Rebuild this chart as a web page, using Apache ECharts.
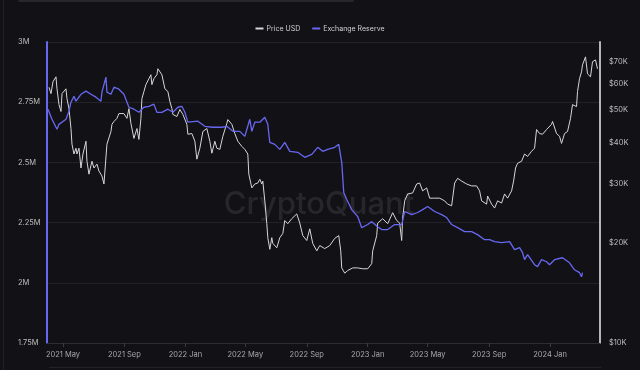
<!DOCTYPE html>
<html>
<head>
<meta charset="utf-8">
<script src="https://cdn.jsdelivr.net/npm/echarts@6/dist/echarts.min.js"></script>
<style>
html,body{margin:0;padding:0;background:#121216;}
#c{width:640px;height:370px;}
</style>
</head>
<body>
<div id="c"></div>
<script>
// ---- Data ----
const priceDates = ['2021-04-03','2021-04-07','2021-04-11','2021-04-17','2021-04-19','2021-04-23','2021-04-27','2021-04-29','2021-05-03','2021-05-07','2021-05-09','2021-05-13','2021-05-17','2021-05-19','2021-05-23','2021-05-27','2021-05-29','2021-06-02','2021-06-06','2021-06-10','2021-06-16','2021-06-18','2021-06-22','2021-06-28','2021-07-02','2021-07-08','2021-07-12','2021-07-18','2021-07-22','2021-07-28','2021-08-05','2021-08-07','2021-08-11','2021-08-17','2021-08-21','2021-08-25','2021-08-31','2021-09-06','2021-09-10','2021-09-14','2021-09-20','2021-09-26','2021-09-30','2021-10-04','2021-10-06','2021-10-10','2021-10-14','2021-10-20','2021-10-24','2021-10-26','2021-10-30','2021-11-05','2021-11-07','2021-11-15','2021-11-21','2021-11-27','2021-12-01','2021-12-05','2021-12-07','2021-12-15','2021-12-21','2021-12-27','2022-01-04','2022-01-06','2022-01-14','2022-01-20','2022-01-24','2022-01-30','2022-02-05','2022-02-13','2022-02-19','2022-02-23','2022-03-01','2022-03-05','2022-03-11','2022-03-17','2022-03-25','2022-03-27','2022-04-04','2022-04-10','2022-04-16','2022-04-24','2022-04-30','2022-05-06','2022-05-08','2022-05-14','2022-05-20','2022-05-26','2022-05-30','2022-06-03','2022-06-05','2022-06-09','2022-06-13','2022-06-15','2022-06-19','2022-06-23','2022-06-25','2022-07-03','2022-07-09','2022-07-15','2022-07-19','2022-07-25','2022-08-02','2022-08-12','2022-08-18','2022-08-24','2022-09-01','2022-09-07','2022-09-13','2022-09-21','2022-09-27','2022-10-07','2022-10-17','2022-10-27','2022-11-04','2022-11-08','2022-11-10','2022-11-16','2022-11-22','2022-12-02','2022-12-12','2022-12-22','2023-01-01','2023-01-09','2023-01-11','2023-01-19','2023-01-21','2023-01-31','2023-02-10','2023-02-20','2023-02-28','2023-03-06','2023-03-10','2023-03-12','2023-03-16','2023-03-22','2023-04-01','2023-04-09','2023-04-15','2023-04-21','2023-04-29','2023-05-05','2023-05-15','2023-05-25','2023-06-04','2023-06-10','2023-06-18','2023-06-24','2023-06-30','2023-07-08','2023-07-18','2023-07-28','2023-08-07','2023-08-13','2023-08-17','2023-08-27','2023-08-29','2023-09-06','2023-09-12','2023-09-18','2023-09-26','2023-10-02','2023-10-08','2023-10-16','2023-10-20','2023-10-24','2023-10-28','2023-11-05','2023-11-11','2023-11-17','2023-11-25','2023-12-01','2023-12-05','2023-12-11','2023-12-17','2023-12-25','2024-01-04','2024-01-06','2024-01-14','2024-01-20','2024-01-24','2024-01-30','2024-02-05','2024-02-11','2024-02-15','2024-02-23','2024-02-25','2024-02-29','2024-03-04','2024-03-06','2024-03-12','2024-03-16','2024-03-22','2024-03-26','2024-04-01','2024-04-05'];
// price in thousands of USD
const priceValues = [58.5,56.0,60.8,62.9,57.9,51.9,49.5,56.0,55.6,57.9,54.1,50.5,44.0,39.5,36.9,38.4,36.9,38.4,33.5,36.9,40.3,35.1,32.1,35.1,33.5,34.4,32.8,31.7,30.0,39.5,43.1,45.3,46.2,47.2,48.8,48.5,48.8,47.2,50.5,45.6,41.1,44.0,40.8,47.2,54.1,56.8,59.6,62.1,63.8,59.6,62.1,63.8,66.5,63.8,57.9,56.8,53.0,50.5,48.5,47.8,50.2,48.5,45.3,42.3,42.5,40.3,35.6,38.4,43.1,44.0,40.3,37.1,40.3,38.4,38.1,41.7,45.6,46.8,45.3,42.5,40.3,38.9,38.1,36.9,32.1,29.2,30.0,30.2,31.0,30.0,30.6,26.7,22.8,20.7,19.1,20.7,19.9,19.3,20.7,21.3,23.3,22.8,23.6,24.4,22.9,21.0,20.3,22.0,19.9,18.9,19.6,19.2,19.6,20.6,21.0,18.9,16.8,16.2,16.5,16.8,16.8,16.7,16.7,17.3,18.9,21.0,22.9,23.6,22.8,24.6,23.3,22.9,20.3,23.8,26.7,28.0,28.2,30.0,30.2,28.6,29.2,27.2,27.2,27.2,26.7,26.1,25.8,30.2,31.2,30.6,30.0,29.6,29.6,28.6,26.7,26.1,27.6,26.1,25.4,26.7,26.3,28.0,27.2,28.6,30.6,33.5,34.6,35.1,36.9,36.3,37.6,38.4,43.7,42.5,42.3,43.7,45.3,46.2,42.5,41.7,39.7,42.5,43.1,47.2,51.9,51.2,56.8,62.1,65.1,68.3,72.2,64.2,62.9,69.8,70.7,66.5];

const reserveDates = ['2021-04-01','2021-04-09','2021-04-19','2021-04-23','2021-05-07','2021-05-13','2021-05-17','2021-05-23','2021-05-27','2021-06-06','2021-06-16','2021-06-26','2021-07-06','2021-07-16','2021-07-18','2021-07-26','2021-07-28','2021-08-05','2021-08-11','2021-08-21','2021-08-31','2021-09-10','2021-09-20','2021-09-30','2021-10-10','2021-10-20','2021-10-30','2021-11-05','2021-11-15','2021-11-27','2021-12-07','2021-12-17','2021-12-25','2021-12-31','2022-01-06','2022-01-26','2022-02-09','2022-02-25','2022-03-15','2022-03-25','2022-04-06','2022-04-20','2022-04-30','2022-05-10','2022-05-14','2022-05-20','2022-05-30','2022-06-09','2022-06-15','2022-06-19','2022-06-29','2022-07-09','2022-07-19','2022-07-29','2022-08-14','2022-08-28','2022-09-11','2022-09-23','2022-10-03','2022-10-13','2022-10-27','2022-11-04','2022-11-10','2022-11-14','2022-11-20','2022-11-30','2022-12-12','2022-12-20','2023-01-01','2023-01-09','2023-01-21','2023-01-29','2023-02-10','2023-02-24','2023-03-10','2023-03-16','2023-03-30','2023-04-11','2023-04-21','2023-05-01','2023-05-15','2023-05-29','2023-06-08','2023-06-18','2023-06-30','2023-07-14','2023-07-28','2023-08-09','2023-08-23','2023-09-02','2023-09-12','2023-09-26','2023-10-12','2023-10-22','2023-11-01','2023-11-07','2023-11-11','2023-11-17','2023-12-01','2023-12-07','2023-12-15','2023-12-25','2023-12-31','2024-01-10','2024-01-26','2024-02-09','2024-02-19','2024-02-29','2024-03-04','2024-03-06'];
// exchange reserve in millions of BTC
const reserveValues = [2.721,2.679,2.638,2.658,2.679,2.7125,2.75,2.775,2.754,2.783,2.796,2.783,2.771,2.754,2.792,2.854,2.792,2.783,2.8125,2.804,2.783,2.729,2.721,2.708,2.729,2.733,2.742,2.708,2.708,2.721,2.708,2.729,2.733,2.708,2.667,2.671,2.65,2.646,2.646,2.65,2.629,2.629,2.608,2.679,2.629,2.667,2.667,2.6875,2.658,2.583,2.575,2.554,2.583,2.546,2.542,2.521,2.533,2.5625,2.546,2.554,2.5625,2.575,2.5,2.375,2.346,2.304,2.275,2.229,2.242,2.254,2.233,2.221,2.221,2.242,2.242,2.296,2.283,2.292,2.304,2.317,2.296,2.283,2.271,2.242,2.229,2.2125,2.2125,2.2,2.179,2.179,2.171,2.167,2.171,2.1375,2.146,2.125,2.096,2.117,2.075,2.067,2.096,2.0875,2.075,2.096,2.104,2.083,2.054,2.042,2.025,2.042];

const xTickDates = ['2021-05-01','2021-09-01','2022-01-01','2022-05-01','2022-09-01','2023-01-01','2023-05-01','2023-09-01','2024-01-01'];
const leftTicks = [1.75, 2, 2.25, 2.5, 2.75, 3];
const rightTicks = [10, 20, 30, 40, 50, 60, 70];
const monthNames = ['Jan','Feb','Mar','Apr','May','Jun','Jul','Aug','Sep','Oct','Nov','Dec'];

function ts(s){ const p = s.split('-').map(Number); return new Date(p[0], p[1]-1, p[2]).getTime(); }

const chart = echarts.init(document.getElementById('c'), null, {renderer:'canvas'});
const FONT = 'Inter, Roboto, sans-serif';
const PRICE_COLOR = '#d6d6d6';
const RES_COLOR = '#6767f2';

chart.setOption({
  backgroundColor: '#121216',
  animation: false,
  textStyle: { fontFamily: FONT },
  legend: {
    top: 20, left: 'center',
    icon: 'rect', itemWidth: 8, itemHeight: 2, itemGap: 12,
    textStyle: { color: '#d0d0d0', fontSize: 7, fontFamily: FONT, padding: [0, 0, 0, -2] },
    data: ['Price USD', 'Exchange Reserve']
  },
  grid: { left: 47, right: 40, top: 42, bottom: 27 },
  graphic: [
    { type: 'rect', shape: { x: 3, y: 0, width: 1, height: 370 }, style: { fill: '#1f1f24' }, silent: true },
    { type: 'rect', shape: { x: 18, y: 0, width: 336, height: 2, r: 1 }, style: { fill: '#26262b' }, silent: true },
    { type: 'rect', shape: { x: 49, y: 367, width: 552, height: 1 }, style: { fill: '#222227' }, silent: true },
    { type: 'text', x: 319, y: 205, silent: true, z: 0,
      style: { text: 'CryptoQuant', fontSize: 31, fontFamily: FONT, fontWeight: 500,
               fill: 'rgba(255,255,255,0.09)', align: 'center', verticalAlign: 'middle' } }
  ],
  xAxis: {
    type: 'value',
    min: ts('2021-03-30'), max: ts('2024-04-10'),
    axisLine: { show: true, lineStyle: { color: '#2c2c31', width: 1 } },
    axisTick: { show: true, length: 4, lineStyle: { color: '#3a3a40' }, customValues: xTickDates.map(ts) },
    axisLabel: {
      color: '#a8a8a8', fontSize: 7.5, margin: 8, fontFamily: FONT,
      customValues: xTickDates.map(ts),
      formatter: function (v) { const d = new Date(v); return d.getFullYear() + ' ' + monthNames[d.getMonth()]; }
    },
    splitLine: { show: false }
  },
  yAxis: [
    {
      type: 'value', position: 'left',
      min: leftTicks[0], max: leftTicks[leftTicks.length-1], interval: 0.25,
      axisLine: { show: true, lineStyle: { color: RES_COLOR, width: 2 } },
      axisTick: { show: false },
      axisLabel: { color: '#bdbdbd', fontSize: 7.5, align: 'left', margin: 29, fontFamily: FONT,
                   formatter: function (v) { return v + 'M'; } },
      splitLine: { show: true, lineStyle: { color: '#222227', width: 1 } }
    },
    {
      type: 'log', logBase: 10, position: 'right',
      min: 10, max: 80,
      axisLine: { show: true, lineStyle: { color: '#b5b5b5', width: 2 } },
      axisTick: { show: false },
      axisLabel: { color: '#bdbdbd', fontSize: 7.5, margin: 9, fontFamily: FONT,
                   customValues: rightTicks,
                   formatter: function (v) { return '$' + Math.round(v) + 'K'; } },
      splitLine: { show: false }
    }
  ],
  series: [
    {
      name: 'Price USD', type: 'line', yAxisIndex: 1, showSymbol: false, symbol: 'none',
      color: PRICE_COLOR, lineStyle: { color: PRICE_COLOR, width: 1 },
      data: priceDates.map(function (d, i) { return [ts(d), priceValues[i]]; })
    },
    {
      name: 'Exchange Reserve', type: 'line', yAxisIndex: 0, showSymbol: false, symbol: 'none',
      color: RES_COLOR, lineStyle: { color: RES_COLOR, width: 1.3 },
      data: reserveDates.map(function (d, i) { return [ts(d), reserveValues[i]]; })
    }
  ]
});
</script>
</body>
</html>
